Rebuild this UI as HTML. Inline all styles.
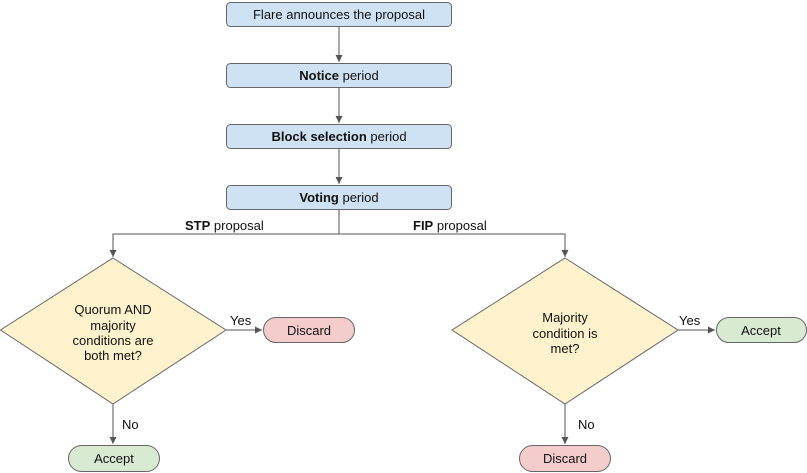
<!DOCTYPE html>
<html><head><meta charset="utf-8"><style>
html,body{margin:0;padding:0;background:#fff;width:807px;height:473px;overflow:hidden}
svg text{font-family:"Liberation Sans",Arial,sans-serif;font-size:13px;fill:#111}
</style></head><body>
<svg width="807" height="473" viewBox="0 0 807 473" xmlns="http://www.w3.org/2000/svg">
<defs><marker id="a" markerWidth="8" markerHeight="8" refX="7" refY="4" orient="auto" markerUnits="userSpaceOnUse"><path d="M0,0.5 L7,4 L0,7.5 Z" fill="#555"/></marker></defs>
<g stroke="#555" stroke-width="1" fill="none">
<line x1="339" y1="26" x2="339" y2="62" marker-end="url(#a)"/>
<line x1="339" y1="88" x2="339" y2="123" marker-end="url(#a)"/>
<line x1="339" y1="149" x2="339" y2="184" marker-end="url(#a)"/>
<polyline points="339,210 339,234 113,234 113,257" marker-end="url(#a)"/>
<polyline points="339,234 565,234 565,257" marker-end="url(#a)"/>
<line x1="226" y1="330" x2="262" y2="330" marker-end="url(#a)"/>
<line x1="113" y1="404" x2="113" y2="444" marker-end="url(#a)"/>
<line x1="678" y1="330" x2="715" y2="330" marker-end="url(#a)"/>
<line x1="565" y1="404" x2="565" y2="444" marker-end="url(#a)"/>
</g>
<g stroke="#666" stroke-width="1">
<rect x="226.5" y="2.5" width="225" height="24" rx="4" fill="#cfe2f3"/>
<rect x="226.5" y="63.5" width="225" height="24" rx="4" fill="#cfe2f3"/>
<rect x="226.5" y="124.5" width="225" height="24" rx="4" fill="#cfe2f3"/>
<rect x="226.5" y="185.5" width="225" height="24" rx="4" fill="#cfe2f3"/>
<polygon points="113,258 226,330 113,404 0.5,330" fill="#fff2cc"/>
<polygon points="565,258 678,330 565,404 452,330" fill="#fff2cc"/>
<rect x="263.5" y="317.5" width="91" height="25" rx="12.5" fill="#f4cccc"/>
<rect x="68.5" y="445.5" width="91" height="26" rx="13" fill="#d9ead3"/>
<rect x="716.5" y="317.5" width="90" height="25" rx="12.5" fill="#d9ead3"/>
<rect x="519.5" y="445.5" width="91" height="26" rx="13" fill="#f4cccc"/>
</g>
<g text-anchor="middle">
<text x="339" y="19">Flare announces the proposal</text>
<text x="339" y="80"><tspan font-weight="bold">Notice</tspan> period</text>
<text x="339" y="141"><tspan font-weight="bold">Block selection</tspan> period</text>
<text x="339" y="202"><tspan font-weight="bold">Voting</tspan> period</text>
<text x="113" y="314">Quorum AND</text>
<text x="113" y="330">majority</text>
<text x="113" y="345">conditions are</text>
<text x="113" y="360">both met?</text>
<text x="565" y="322">Majority</text>
<text x="565" y="338">condition is</text>
<text x="565" y="353">met?</text>
<text x="309" y="335">Discard</text>
<text x="114" y="463">Accept</text>
<text x="761" y="335">Accept</text>
<text x="565" y="463">Discard</text>
</g>
<text x="185" y="230"><tspan font-weight="bold">STP</tspan> proposal</text>
<text x="413" y="230"><tspan font-weight="bold">FIP</tspan> proposal</text>
<text x="230" y="325">Yes</text>
<text x="122" y="429">No</text>
<text x="679" y="325">Yes</text>
<text x="578" y="429">No</text>
</svg>
</body></html>
